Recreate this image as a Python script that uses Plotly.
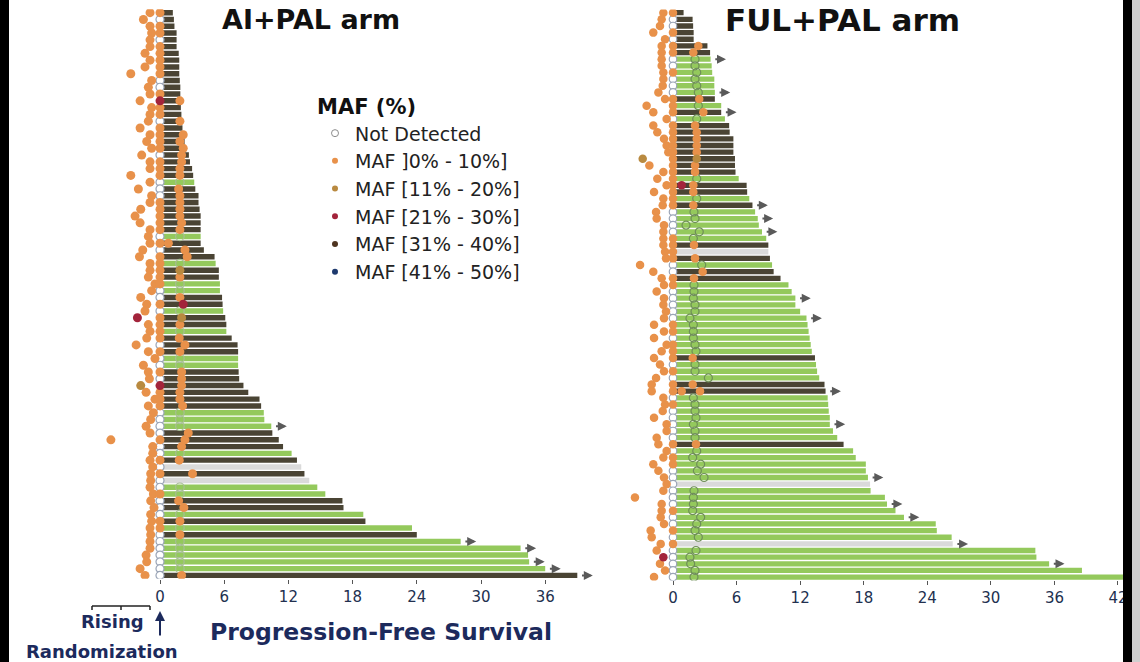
import plotly.graph_objects as go

# ---------------- DATA ----------------
# AI+PAL arm (84 patients, top -> bottom)
ai_pfs = [1.2, 1.3, 1.35, 1.55, 1.55, 1.55, 1.75, 1.8, 1.8, 1.8,
          1.85, 1.9, 1.9, 1.9, 1.95, 2.0, 1.9, 2.1, 2.2, 2.3,
          2.4, 2.7, 2.8, 3.0, 3.1, 3.2, 3.3, 3.6, 3.6, 3.7,
          3.8, 3.8, 3.8, 3.8, 3.8, 4.1, 5.1, 5.2, 5.5, 5.5,
          5.6, 5.6, 5.8, 5.85, 5.9, 6.1, 6.2, 6.2, 6.7, 7.25,
          7.3, 7.3, 7.3, 7.35, 7.4, 7.8, 8.25, 9.3, 9.45, 9.7,
          9.75, 10.4, 10.5, 11.1, 11.5, 12.3, 12.8, 13.2, 13.5, 13.95,
          14.7, 15.45, 17.05, 17.15, 19.0, 19.2, 23.55, 24.0, 28.1, 33.7,
          34.4, 34.5, 36.0, 39.0]
# D = progressed (dark), G = ctDNA not detected at PFS (green), W = unknown (grey)
ai_status = list("DDDDDDDDDDDDDDDDDDDDDDDDDGDD"
                 "DDDDDGDDDGDDGGDDGDDGDDDGGDDDDD"
                 "DGGGDDDGDWDWGGDDGDGDGGGGGD")
ai_censored = [62, 79, 80, 82, 83, 84]
ai_pre_x = [-0.93, -1.55, -0.93, -0.78, -0.93, -0.93, -1.40, -0.93, -1.40, -2.73,
            -0.78, -1.09, -0.93, -1.86, -0.78, -0.93, -1.09, -1.86, -0.93, -1.24,
            -0.78, -1.71, -0.93, -0.93, -2.73, -0.93, -2.02, -0.78, -0.93, -1.80,
            -2.33, -1.86, -0.93, -1.09, -0.93, -1.61, -1.92, -0.93, -0.93, -1.09,
            -0.47, -0.78, -1.80, -1.24, -1.40, -2.11, -1.09, -0.93, -1.24, -2.23,
            -1.09, -0.47, -1.55, -1.09, -0.99, -1.80, -1.30, -0.47, -1.09, -0.62,
            -0.87, -1.30, -0.93, -4.59, -0.68, -0.68, -0.93, -0.68, -0.87, -0.87,
            -0.93, -0.62, -0.87, -0.56, -0.87, -0.78, -0.93, -0.87, -0.93, -0.93,
            -1.30, -1.24, -1.86, -1.40]
# MAF codes: 0 ND, 1 ]0-10], 2 [11-20], 3 [21-30], 4 [31-40], 5 [41-50]
ai_pre_maf = [1] * 45 + [3] + [1] * 9 + [2] + [1] * 28
ai_day0_maf = [1, 0, 1, 1, 0, 1, 1, 1, 1, 1, 0, 0, 1, 3, 1, 1, 0, 1, 1, 1,
               1, 0, 1, 1, 1, 0, 0, 0,
               1, 1, 1, 1, 1, 0, 1, 0, 1, 1, 1, 1, 1, 0, 0, 1, 0, 1, 1, 1,
               1, 0, 1, 0, 0, 1, 0, 3, 1, 1,
               1, 0, 0, 0, 0, 1, 0, 0, 1, 0, 1, 0, 0, 1, 0, 0, 0, 1, 1, 0,
               0, 0, 0, 0, 0, 0]
ai_mid_x = [None] * 13 + [1.86, None, None, 1.86, None, 2.17, 1.86, 2.17, 2.02, 2.02,
                          1.86, 1.86, 1.86, 1.74, 1.86,
            1.86, 1.86, 1.86, 2.02, 1.86, 1.86, 0.78, 2.33, 2.54, 1.86,
            1.86, 1.86, 1.86, 1.86, 1.86, 2.17, 1.86, 2.02, 1.86, 1.86,
            1.80, 2.33, 1.86, 1.86, 1.86, 2.02, 2.02, 2.02, 1.86, 1.86,
            2.11, 1.86, 1.86, 1.86, 2.64, 2.33, 2.02, 1.86, 1.80, None,
            3.04, None, 1.86, 1.86, 1.74, 2.23, 1.86, 1.86, 1.86, 1.86,
            1.86, 1.86, 1.86, 1.86, 1.86, 2.02]
ai_mid_maf = [None] * 13 + [1, None, None, 1, None, 1, 1, 1, 1, 1, 1, 1, 0, 1, 1,
              1, 1, 1, 1, 1, 0, 1, 1, 1, 0, 2, 1, 0, 0, 1, 3, 0, 2, 1, 0,
              1, 1, 1, 0, 0, 1, 1, 1, 1, 1,
              1, 0, 0, 0, 1, 1, 1, 0, 1, None, 1, None, 0, 0, 1, 1, 0, 1, 0, 1,
              0, 0, 0, 0, 0, 1]

# FUL+PAL arm (86 patients, top -> bottom)
ful_pfs = [1.0, 1.85, 1.9, 1.95, 1.95, 3.25, 3.5, 3.55, 3.65, 3.7,
           3.9, 3.9, 3.95, 3.95, 4.55, 4.55, 4.9, 5.3, 5.35, 5.7,
           5.7, 5.7, 5.85, 5.85, 5.9, 6.2, 6.95, 7.0, 7.2, 7.5,
           7.75, 8.0, 8.1, 8.4, 8.8, 9.0, 9.0, 9.15, 9.35, 9.5,
           10.15, 10.9, 11.2, 11.55, 11.55, 12.0, 12.6, 12.7, 12.8, 12.9,
           13.0, 13.1, 13.4, 13.5, 13.6, 13.8, 14.3, 14.4, 14.6, 14.65,
           14.7, 14.8, 14.8, 15.1, 15.5, 16.1, 17.0, 17.25, 18.2, 18.2,
           18.4, 18.6, 18.65, 20.0, 20.2, 21.0, 21.8, 24.8, 24.9, 26.3,
           26.4, 34.2, 34.3, 35.5, 38.6, 44.0]
ful_status = list("DDDDDDD" "GGGGGG" "DGDG" "DDDDDDDD" "GDDG" "DGGGGG" "DWDGDD"
                  "GGGGGGGGGGG" "D" "GGG" "DD" "GGGGGGG" "D" "GGGGG" "W" "GGGGGGGG"
                  "W" "GGGGG")
ful_censored = [8, 13, 16, 30, 32, 34, 44, 47, 58, 63, 71, 75, 77, 81, 84]
ful_pre_x = [-0.91, -1.07, -1.23, -1.86, -0.75, -1.07, -1.07, -1.07, -1.07, -0.91,
             -0.91, -0.97, -1.38, -0.75, -2.49, -1.86, -0.60, -1.86, -1.48, -0.85,
             -0.60, -0.44, -2.86, -2.23, -0.91, -1.48, -0.60, -1.79, -0.91, -0.97,
             -1.60, -1.54, -0.85, -0.91, -0.91, -0.91, -0.75, -0.66, -3.11, -1.86,
             -1.07, -0.85, -1.54, -0.85, -0.91, -0.66, -0.85, -1.79, -0.85, -1.79,
             -0.60, -1.07, -1.79, -1.23, -0.85, -1.60, -2.01, -2.01, -0.91, -0.75,
             -0.97, -1.79, -0.60, -0.60, -1.54, -1.38, -0.60, -0.91, -1.86, -1.38,
             -0.85, -0.60, -0.91, -3.59, -1.07, -1.07, -1.16, -0.85, -2.11, -2.01,
             -1.16, -1.54, -0.91, -1.23, -0.75, -1.79]
ful_pre_maf = [1] * 22 + [2] + [1] * 59 + [3] + [1] * 3
ful_day0_maf = [1, 0, 0, 1, 0, 1, 1, 0, 0, 1, 0, 0, 0, 1, 1, 1, 0, 1, 1, 1,
                1, 1, 1, 1, 1, 1, 1, 1, 1, 1,
                0, 0, 0, 0, 1, 1, 1, 1, 0, 0, 1, 1, 0, 0, 0, 0, 0, 1, 1, 0,
                1, 1, 1, 0, 1, 0, 1, 1, 0, 1,
                0, 0, 0, 0, 0, 1, 0, 1, 1, 0, 0, 0, 0, 0, 0, 1, 0, 0, 1, 0,
                1, 0, 0, 0, 0, 0]
ful_mid_x = [None, None, None, None, None, 2.39, 1.92, 2.08, 2.08, 2.24,
             2.08, 2.24, 2.39, 2.48, 2.39, 2.86, 2.24, 2.08, 2.24, 2.24,
             2.24, 2.24, 2.24, 2.08, 2.08, 2.24, 1.92, 1.92, 2.24, 1.92,
             1.98, 2.08, 1.23, 2.48, 1.92, 1.98, None, 2.08, 2.71, 2.80,
             1.98, 1.98, 1.98, 1.92, 2.08, 2.08, 1.60, 1.92, 1.92, 1.92,
             2.08, 2.17, 1.86, 2.08, 2.08, 3.34, 1.86, 2.55, 1.92, 2.08,
             2.08, 2.17, 1.92, 2.08, 2.08, 2.17, 2.24, 1.86, 2.61, 2.30,
             2.93, None, 1.98, 1.92, 1.92, 1.86, 2.61, 2.24, 2.08, 2.39,
             None, 2.17, 1.60, 1.67, 2.08, 1.98]
ful_mid_maf = [None, None, None, None, None, 1, 1, 0, 0, 0,
               0, 0, 0, 1, 0, 1, 0, 1, 1, 1,
               1, 1, 2, 1, 1, 0, 1, 1, 0, 1,
               0, 0, 0, 0, 0, 1, None, 1, 0, 1,
               1, 0, 0, 0, 0, 0, 0, 0, 0, 0,
               0, 0, 1, 0, 0, 0, 1, 1, 0, 0,
               0, 0, 0, 0, 0, 1, 0, 0, 0, 0,
               0, None, 0, 0, 0, 0, 0, 0, 0, 0,
               None, 0, 0, 0, 0, 0]
ful_extra_rows = [27, 58]
ful_extra_x = [0.82, 0.82]
ful_extra_maf = [3, 1]

ai_ticks = [0, 6, 12, 18, 24, 30, 36]
ful_ticks = [0, 6, 12, 18, 24, 30, 36, 42]
maf_labels = ["Not Detected", "MAF ]0% - 10%]", "MAF [11% - 20%]",
              "MAF [21% - 30%]", "MAF [31% - 40%]", "MAF [41% - 50%]"]

# ---------------- STYLE ----------------
W, H = 1140, 662
FONT = "DejaVu Sans"
NAVY = "#1c2a5c"
MAF_COLORS = ["#ffffff", "#E8914A", "#B98A40", "#A3243B", "#4E3420", "#1E3A6E"]
BAR_COLORS = {"D": "#4A4434", "G": "#94C95C", "W": "#DADADA"}


def pxx(p):
    return p / W


def pxy(p):
    return 1 - p / H


fig = go.Figure()

panels = [
    dict(pfs=ai_pfs, status=ai_status, cens=ai_censored, pre_x=ai_pre_x,
         pre_maf=ai_pre_maf, day0=ai_day0_maf, mid_x=ai_mid_x, mid_maf=ai_mid_maf,
         ex_rows=[], ex_x=[], ex_maf=[], xa="x", ya="y", dot=9, hollow="#a7bd95"),
    dict(pfs=ful_pfs, status=ful_status, cens=ful_censored, pre_x=ful_pre_x,
         pre_maf=ful_pre_maf, day0=ful_day0_maf, mid_x=ful_mid_x, mid_maf=ful_mid_maf,
         ex_rows=ful_extra_rows, ex_x=ful_extra_x, ex_maf=ful_extra_maf,
         xa="x2", ya="y2", dot=8.5, hollow="#6f8f58"),
]

annotations = []
for p in panels:
    n = len(p["pfs"])
    rows = list(range(1, n + 1))
    for s in ["D", "G", "W"]:
        xs = [v for v, st in zip(p["pfs"], p["status"]) if st == s]
        ys = [r for r, st in zip(rows, p["status"]) if st == s]
        fig.add_trace(go.Bar(x=xs, y=ys, orientation="h", width=0.8,
                             marker=dict(color=BAR_COLORS[s], line=dict(width=0)),
                             xaxis=p["xa"], yaxis=p["ya"], showlegend=False,
                             hoverinfo="skip"))
    groups = {k: ([], []) for k in ["hollow", 0, 1, 2, 3, 4, 5]}
    for r, x, m in zip(rows, p["pre_x"], p["pre_maf"]):
        groups[m][0].append(x); groups[m][1].append(r)
    for r, m in zip(rows, p["day0"]):
        groups[m][0].append(0); groups[m][1].append(r)
    for r, x, m in zip(rows, p["mid_x"], p["mid_maf"]):
        if x is None:
            continue
        key = "hollow" if m == 0 else m
        groups[key][0].append(x); groups[key][1].append(r)
    for r, x, m in zip(p["ex_rows"], p["ex_x"], p["ex_maf"]):
        groups[m][0].append(x); groups[m][1].append(r)
    hx, hy = groups["hollow"]
    fig.add_trace(go.Scatter(x=hx, y=hy, mode="markers", xaxis=p["xa"], yaxis=p["ya"],
                             marker=dict(symbol="circle-open", size=p["dot"] - 0.5,
                                         color=p["hollow"], line=dict(width=1.2)),
                             showlegend=False, hoverinfo="skip"))
    nx_, ny_ = groups[0]
    fig.add_trace(go.Scatter(x=nx_, y=ny_, mode="markers", xaxis=p["xa"], yaxis=p["ya"],
                             marker=dict(symbol="circle", size=p["dot"] - 1, color="white",
                                         line=dict(width=1.2, color="#9AA4B6")),
                             showlegend=False, hoverinfo="skip"))
    for k in [1, 2, 3, 4, 5]:
        gx, gy = groups[k]
        if not gx:
            continue
        fig.add_trace(go.Scatter(x=gx, y=gy, mode="markers", xaxis=p["xa"], yaxis=p["ya"],
                                 marker=dict(symbol="circle", size=p["dot"],
                                             color=MAF_COLORS[k], line=dict(width=0)),
                                 showlegend=False, hoverinfo="skip"))
    for r in p["cens"]:
        v = p["pfs"][r - 1]
        annotations.append(dict(x=v + 1.45, y=r, ax=v + 0.3, ay=r,
                                xref=p["xa"], yref=p["ya"], axref=p["xa"], ayref=p["ya"],
                                showarrow=True, arrowhead=2, arrowsize=0.9, arrowwidth=2,
                                arrowcolor="#5a5a5a", text=""))

# legend entries
for k, lab in enumerate(maf_labels):
    if k == 0:
        mk = dict(symbol="circle", size=7, color="white", line=dict(width=1, color="#8c8c8c"))
    else:
        mk = dict(symbol="circle", size=6, color=MAF_COLORS[k], line=dict(width=0))
    fig.add_trace(go.Scatter(x=[None], y=[None], mode="markers", name=lab, marker=mk,
                             legendgroup=f"g{k}", legendrank=k + 1, showlegend=True,
                             xaxis="x", yaxis="y"))


def label(text, x, y, size, color):
    return dict(text=text, x=pxx(x), y=pxy(y), xref="paper", yref="paper",
                xanchor="center", yanchor="middle", showarrow=False,
                font=dict(family=FONT, size=size, color=color))


annotations += [
    label("<b>AI+PAL arm</b>", 311, 20, 27, "#111111"),
    label("<b>FUL+PAL arm</b>", 842, 20, 31, "#111111"),
    label("<b>Rising</b>", 112, 621, 18, NAVY),
    label("<b>Randomization</b>", 102, 651, 18, NAVY),
    label("<b>Progression-Free Survival</b>", 381, 632, 23.5, NAVY),
    dict(text="", x=pxx(160), y=pxy(611), xref="paper", yref="paper", ax=0, ay=26,
         showarrow=True, arrowhead=2, arrowsize=1, arrowwidth=2, arrowcolor=NAVY),
]

shapes = [
    dict(type="line", xref="paper", yref="paper", x0=pxx(92), x1=pxx(150), y0=pxy(606), y1=pxy(606),
         line=dict(color="#222", width=1.5)),
    dict(type="line", xref="paper", yref="paper", x0=pxx(92), x1=pxx(92), y0=pxy(606), y1=pxy(610),
         line=dict(color="#222", width=1.5)),
    dict(type="line", xref="paper", yref="paper", x0=pxx(121), x1=pxx(121), y0=pxy(606), y1=pxy(610),
         line=dict(color="#222", width=1.5)),
    dict(type="line", xref="paper", yref="paper", x0=pxx(150), x1=pxx(150), y0=pxy(606), y1=pxy(610),
         line=dict(color="#222", width=1.5)),
    # picture frame (left black edge, right black edge + grey margin)
    dict(type="rect", xref="paper", yref="paper", xsizemode="pixel", xanchor=0,
         x0=0, x1=9, y0=0, y1=1, fillcolor="#000000", line=dict(width=0), layer="above"),
    dict(type="line", xref="paper", yref="paper", x0=pxx(4.5), x1=pxx(4.5), y0=0, y1=1,
         line=dict(color="#000000", width=9), layer="above"),
    dict(type="rect", xref="paper", yref="paper", x0=pxx(1123), x1=pxx(1132), y0=0, y1=1,
         fillcolor="#000000", line=dict(width=0), layer="above"),
    dict(type="rect", xref="paper", yref="paper", x0=pxx(1132), x1=1, y0=0, y1=1,
         fillcolor="#cfcfcf", line=dict(width=0), layer="above"),
]

# axis geometry (pixels)
L_ZERO, L_PPM = 160, 10.7
R_ZERO, R_PPM = 673, 10.595
l_range = [-5.6, 41.0]
r_range = [-4.6, (W - R_ZERO) / R_PPM]
l_dom = [pxx(L_ZERO + l_range[0] * L_PPM), pxx(L_ZERO + l_range[1] * L_PPM)]
r_dom = [pxx(R_ZERO + r_range[0] * R_PPM), 1.0]

tick_common = dict(ticks="outside", ticklen=4, tickwidth=1, tickcolor="#555555",
                   showgrid=False, zeroline=False, showline=False,
                   tickfont=dict(family=FONT, size=15, color="#22304f"))

fig.update_layout(
    width=W, height=H, margin=dict(l=0, r=0, t=0, b=0),
    paper_bgcolor="white", plot_bgcolor="white", barmode="overlay",
    annotations=annotations, shapes=shapes,
    xaxis=dict(domain=l_dom, range=l_range, tickvals=ai_ticks, anchor="y", **tick_common),
    yaxis=dict(domain=[pxy(578.8), pxy(9.3)], range=[len(ai_pfs) + 0.5, 0.5],
               visible=False, anchor="x"),
    xaxis2=dict(domain=r_dom, range=r_range, tickvals=ful_ticks, anchor="y2", **tick_common),
    yaxis2=dict(domain=[pxy(580.4), pxy(9.38)], range=[len(ful_pfs) + 0.5, 0.5],
                visible=False, anchor="x2"),
    legend=dict(x=pxx(315), y=pxy(87), xanchor="left", yanchor="top",
                bgcolor="rgba(0,0,0,0)", borderwidth=0, tracegroupgap=0,
                title=dict(text="<b>MAF (%)</b>", font=dict(family=FONT, size=21, color="#111")),
                font=dict(family=FONT, size=19, color="#222")),
    showlegend=True,
)

fig.write_html("out.html", config={"displayModeBar": False},
               post_script="document.body.style.margin='0';document.body.style.overflow='hidden';")
